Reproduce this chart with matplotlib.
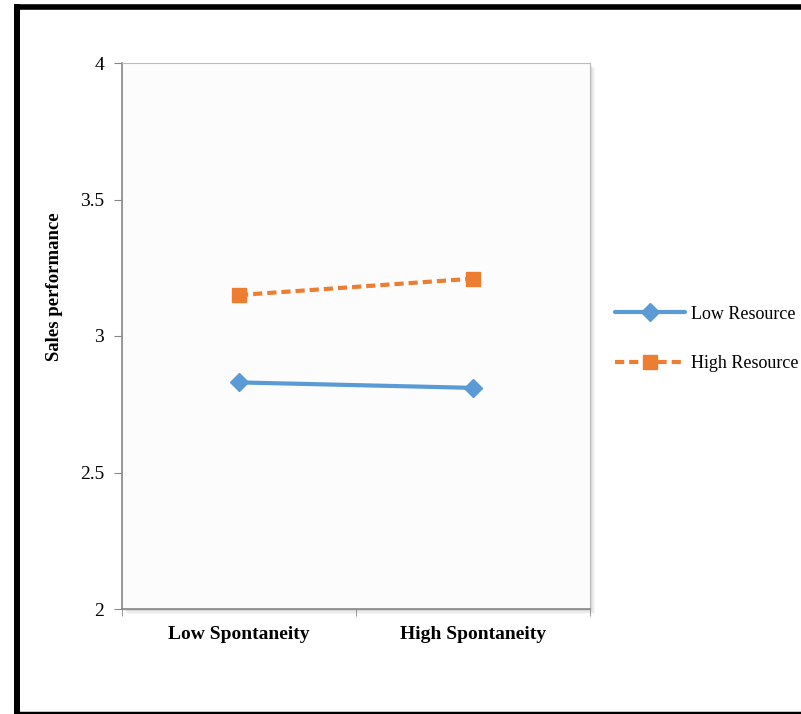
#!/usr/bin/env python3

"""
Interaction plot: sales performance by spontaneity and resource level.
"""

import matplotlib
matplotlib.use("Agg")
import matplotlib.pyplot as plt
from matplotlib.patches import Rectangle
from matplotlib.lines import Line2D

categories = ["Low Spontaneity", "High Spontaneity"]
series_names = ["Low Resource", "High Resource"]
low_resource = [2.83, 2.81]
high_resource = [3.15, 3.21]
y_ticks = [2, 2.5, 3, 3.5, 4]
y_ticklabels = ["2", "2.5", "3", "3.5", "4"]

plt.rcParams['font.family'] = ['Liberation Serif', 'DejaVu Serif']

W, H = 801, 714
fig = plt.figure(figsize=(W / 100, H / 100), dpi=100)

# outer frame (left, top, bottom only)
fig.add_artist(Line2D([17 / W, 17 / W], [0, 1 - 4 / H], color='black',
                      lw=4.3, solid_capstyle='butt',
                      transform=fig.transFigure))
fig.add_artist(Line2D([14 / W, 1], [1 - 6.5 / H, 1 - 6.5 / H], color='black',
                      lw=4.0, solid_capstyle='butt',
                      transform=fig.transFigure))
fig.add_artist(Line2D([14 / W, 1], [1 - 712.5 / H, 1 - 712.5 / H],
                      color='black', lw=2.5, solid_capstyle='butt',
                      transform=fig.transFigure))

left, right = 122 / W, 590 / W
bottom, top = 1 - 609 / H, 1 - 63 / H
ax = fig.add_axes([left, bottom, right - left, top - bottom])

# soft shadow on right and bottom of the plot area
for i, a in enumerate([0.10, 0.07, 0.05, 0.03]):
    off = (i + 1) * 1.2
    fig.add_artist(Rectangle((left + off / W, bottom - off / H),
                             right - left, top - bottom,
                             transform=fig.transFigure, facecolor='black',
                             edgecolor='none', alpha=a, zorder=0))

ax.set_facecolor('#fcfcfc')
ax.set_zorder(1)

x = [0, 1]
ax.plot(x, low_resource, color='#5b9bd5', lw=3, marker='D', ms=9,
        label=series_names[0], solid_capstyle='round')
ax.plot(x, high_resource, color='#ed7d31', lw=3, ls=(0, (2.2, 1.2)),
        marker='s', ms=10, label=series_names[1])

ax.set_xlim(-0.5, 1.5)
ax.set_ylim(2, 4)
ax.set_yticks(y_ticks)
ax.set_yticklabels(y_ticklabels, fontsize=14)
ax.set_xticks(x)
ax.set_xticklabels(categories, fontsize=14, fontweight='bold')
ax.tick_params(axis='x', length=0, pad=12)
ax.set_xticks([-0.5, 0.5, 1.5], minor=True)
ax.tick_params(axis='x', which='minor', length=5, color='#868686')
ax.tick_params(axis='y', length=6, color='#868686', pad=7)

for s in ['left', 'bottom']:
    ax.spines[s].set_color('#868686')
    ax.spines[s].set_linewidth(1.2)
for s in ['top', 'right']:
    ax.spines[s].set_color('#bdbdbd')
    ax.spines[s].set_linewidth(0.8)

ax.set_ylabel("Sales performance", fontsize=13.5, fontweight='bold')
ax.yaxis.set_label_coords(-0.126, 0.591)

ax.legend(loc='center left', bbox_to_anchor=(615 / W, 1 - 339 / H),
          bbox_transform=fig.transFigure, frameon=False, fontsize=13,
          handlelength=3.85, handletextpad=0.38, labelspacing=1.8,
          borderpad=0, borderaxespad=0)

fig.savefig("out.png", dpi=100, facecolor='white')
